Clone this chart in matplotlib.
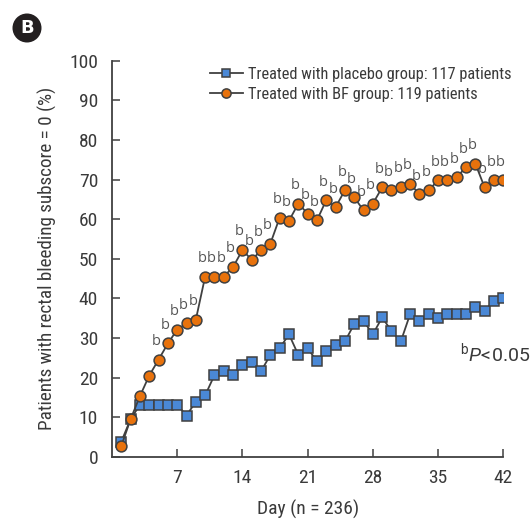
import numpy as np
import matplotlib
matplotlib.use("Agg")
import matplotlib.pyplot as plt
from matplotlib.patches import Ellipse

# % of patients with rectal bleeding subscore = 0
days = list(range(1, 43))
placebo = [3.8, 9.5, 13.1, 13.1, 13.1, 13.1, 13.1, 10.4, 13.9, 15.5,
           20.6, 21.6, 20.6, 23.2, 24.0, 21.6, 25.7, 27.4, 30.9, 25.7,
           27.4, 24.1, 26.6, 28.3, 29.1, 33.5, 34.3, 30.9, 35.2, 31.7,
           29.1, 36.0, 34.3, 36.0, 35.1, 36.0, 36.0, 36.0, 37.7, 36.9,
           39.4, 40.2]
bf = [2.7, 9.5, 15.3, 20.5, 24.5, 28.6, 32.1, 33.7, 34.6, 45.5,
      45.5, 45.5, 47.9, 52.2, 49.7, 52.1, 53.8, 60.4, 59.6, 63.9,
      61.4, 59.7, 64.8, 63.0, 67.3, 65.5, 62.2, 63.9, 68.0, 67.3,
      68.1, 68.9, 66.3, 67.3, 69.8, 69.8, 70.6, 73.1, 74.0, 68.0,
      69.8, 69.8]
sig_days = list(range(5, 43))  # days marked with b (P<0.05)

xticks = [7, 14, 21, 28, 35, 42]
yticks = list(range(0, 101, 10))

plt.rcParams['font.family'] = ['Roboto Condensed', 'Roboto', 'DejaVu Sans']
plt.rcParams['mathtext.fontset'] = 'custom'
plt.rcParams['mathtext.rm'] = 'Roboto'
plt.rcParams['mathtext.it'] = 'Roboto:italic'

txt = '#3a3a3a'
edge = '#404040'

fig = plt.figure(figsize=(5.31, 5.21), dpi=100)
ax = fig.add_axes([0.2109, 0.1234, 0.9478 - 0.2109, 0.8835 - 0.1234])

ax.plot(days, placebo, color=edge, lw=1.3, marker='s', ms=7.4,
        mfc='#4a88d6', mec=edge, mew=1.1,
        label='Treated with placebo group: 117 patients', zorder=3)
ax.plot(days, bf, color=edge, lw=1.3, marker='o', ms=7.8,
        mfc='#e8720c', mec=edge, mew=1.1,
        label='Treated with BF group: 119 patients', zorder=4)

# b marks above every significant day
for d in sig_days:
    ax.annotate('b', (d, bf[d - 1]), xytext=(-2, 13), textcoords='offset points',
                ha='center', va='center', fontsize=10.5, color='#555555',
                family='Open Sans')

ax.text(44.9, 26.0, r'$^{\mathrm{b}}\mathit{P}\!<\!0.05$', fontsize=14,
        color=txt, ha='right', va='center', clip_on=False)

ax.set_xlim(0, 42)
ax.set_ylim(0, 100)
ax.set_xticks(xticks)
ax.set_yticks(yticks)
ax.tick_params(direction='in', length=6, width=1.1, color=edge,
               labelsize=14, labelcolor=txt)
ax.tick_params(axis='x', pad=9)
ax.tick_params(axis='y', pad=10)
for s in ['top', 'right']:
    ax.spines[s].set_visible(False)
for s in ['left', 'bottom']:
    ax.spines[s].set_color(edge)
    ax.spines[s].set_linewidth(1.3)

ax.set_xlabel('Day (n = 236)', fontsize=14, color=txt, labelpad=9)
ax.set_ylabel('Patients with rectal bleeding subscore = 0 (%)', fontsize=13.8,
              color=txt, labelpad=9)

leg = ax.legend(loc='upper left', bbox_to_anchor=(210 / 531, 1 - 67 / 521),
                bbox_transform=fig.transFigure, frameon=False, fontsize=11.8,
                handlelength=2.0, handletextpad=0.3, borderaxespad=0,
                labelspacing=0.3, borderpad=0, markerscale=0.85)
for t in leg.get_texts():
    t.set_color(txt)

# panel label
fig.patches.append(Ellipse((27 / 531, 1 - 28 / 521), 29 / 531, 29 / 521,
                           transform=fig.transFigure, fc='#231f20', ec='none'))
fig.text(27 / 531, 1 - 28 / 521, 'B', color='white', fontsize=13,
         fontweight='bold', ha='center', va='center', family='DejaVu Sans')

fig.savefig('out.png', dpi=100)
